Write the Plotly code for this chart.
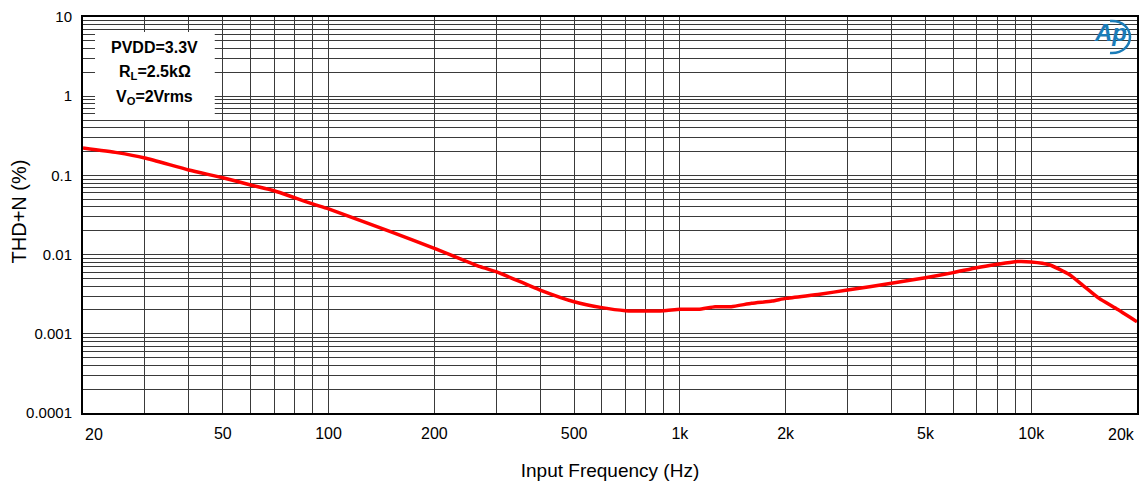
import math
import plotly.graph_objects as go

# ---- data ----
freq_hz = [20, 25, 30, 40, 50, 60, 70, 80, 90, 100, 150, 200, 270, 300, 400, 500,
           600, 700, 800, 900, 1000, 1130, 1260, 1400, 1600, 1830, 2000, 2500,
           3000, 4000, 5000, 6000, 7000, 8000, 9000, 10000, 11300, 12800, 14000,
           15600, 17400, 20000]
thdn_pct = [0.222, 0.194, 0.166, 0.117, 0.0935, 0.0757, 0.064, 0.0523, 0.0436,
            0.0377, 0.0195, 0.0120, 0.00703, 0.00608, 0.00357, 0.00254, 0.00214,
            0.00196, 0.00194, 0.00196, 0.00204, 0.00204, 0.0022, 0.0022, 0.00243,
            0.00259, 0.0028, 0.00316, 0.00357, 0.00434, 0.00511, 0.00592,
            0.00684, 0.00755, 0.00815, 0.00808, 0.0074, 0.00564, 0.00413,
            0.0028, 0.0021, 0.00142]

x_tick_vals = [20, 50, 100, 200, 500, 1000, 2000, 5000, 10000, 20000]
x_tick_text = ["20", "50", "100", "200", "500", "1k", "2k", "5k", "10k", "20k"]
y_tick_vals = [0.0001, 0.001, 0.01, 0.1, 1, 10]
y_tick_text = ["0.0001", "0.001", "0.01", "0.1", "1", "10"]

x_grid_vals = [m * 10 ** e for e in range(1, 5) for m in range(1, 10)
               if 20 <= m * 10 ** e <= 20000]
y_grid_vals = [m * 10.0 ** e for e in range(-4, 1) for m in range(2, 10)]

info_lines = ["<b>PVDD=3.3V</b>", "<b>R<sub>L</sub>=2.5kΩ</b>", "<b>V<sub>O</sub>=2Vrms</b>"]

FONT = "Liberation Sans, Arial, sans-serif"
GRID = "#3a3a3a"

x_lo = math.log10(x_tick_vals[0])
x_hi = math.log10(x_tick_vals[-1])

# the two end labels are drawn as annotations so they stay inside the frame
axis_tick_text = [""] + x_tick_text[1:-1] + [""]

fig = go.Figure()
fig.add_trace(go.Scatter(
    x=freq_hz, y=thdn_pct, mode="lines",
    line=dict(color="#ff0000", width=3.5, shape="spline", smoothing=0.5),
    hoverinfo="skip", showlegend=False,
))

fig.update_layout(
    width=1143, height=486,
    margin=dict(l=83, r=6, t=17, b=73),
    paper_bgcolor="white", plot_bgcolor="white",
    font=dict(family=FONT, color="black", size=15),
    xaxis=dict(
        type="log", range=[x_lo, x_hi], automargin=False,
        tickmode="array", tickvals=x_tick_vals, ticktext=axis_tick_text,
        ticks="", showgrid=True, gridcolor=GRID, gridwidth=1,
        minor=dict(tickmode="array", tickvals=x_grid_vals, showgrid=True,
                   gridcolor=GRID, gridwidth=1, ticks=""),
        showline=True, mirror=True, linecolor="black", linewidth=2,
        zeroline=False, tickfont=dict(size=16), ticklabelstandoff=5,
        title=dict(text="Input Frequency (Hz)", font=dict(size=19), standoff=22),
    ),
    yaxis=dict(
        type="log", range=[-4, 1], automargin=False,
        tickmode="array", tickvals=y_tick_vals, ticktext=y_tick_text,
        ticks="", showgrid=True, gridcolor=GRID, gridwidth=1,
        minor=dict(tickmode="array", tickvals=y_grid_vals, showgrid=True,
                   gridcolor=GRID, gridwidth=1, ticks=""),
        showline=True, mirror=True, linecolor="black", linewidth=2,
        zeroline=False, tickfont=dict(size=15), ticklabelstandoff=6,
        ticklabeloverflow="allow",
    ),
)

# y axis title
fig.add_annotation(
    xref="paper", yref="paper", x=-0.0607, y=0.509, showarrow=False,
    text="THD+N (%)", textangle=-90, font=dict(family=FONT, size=20, color="black"),
    xanchor="center", yanchor="middle",
)

# end tick labels of the x axis (anchored at the axis ends, kept inside the frame)
fig.add_annotation(
    xref="paper", yref="paper", x=0, y=0, yshift=-11,
    showarrow=False, text=x_tick_text[0], font=dict(family=FONT, size=16, color="black"),
    xanchor="left", yanchor="top",
)
fig.add_annotation(
    xref="paper", yref="paper", x=1, y=0, yshift=-11,
    showarrow=False, text=x_tick_text[-1], font=dict(family=FONT, size=16, color="black"),
    xanchor="right", yanchor="top",
)

# white label box with the test conditions
fig.add_shape(type="rect", xref="paper", yref="paper",
              x0=0.0114, x1=0.125, y0=0.740, y1=0.962,
              fillcolor="white", line=dict(width=0), layer="above")
for i, line_text in enumerate(info_lines):
    fig.add_annotation(
        xref="paper", yref="paper", x=0.068, y=0.922 - i * 0.063, showarrow=False,
        text=line_text, font=dict(family=FONT, size=16, color="black"),
        xanchor="center", yanchor="middle",
    )

# Ap logo
fig.add_annotation(
    xref="paper", yref="paper", x=0.9744, y=0.96, showarrow=False,
    text="<b><i>Ap</i></b>", font=dict(family=FONT, size=24, color="#1a7cb8"),
    xanchor="center", yanchor="middle",
)
fig.add_shape(type="path", xref="paper", yref="paper",
              xsizemode="pixel", ysizemode="pixel", xanchor=1, yanchor=1,
              path="M -27,-4 C -14,-3 -7,-12 -7,-20 C -7,-28 -14,-37 -27,-36",
              line=dict(color="#1a7cb8", width=2.5), layer="above")

fig.write_html("out.html")
